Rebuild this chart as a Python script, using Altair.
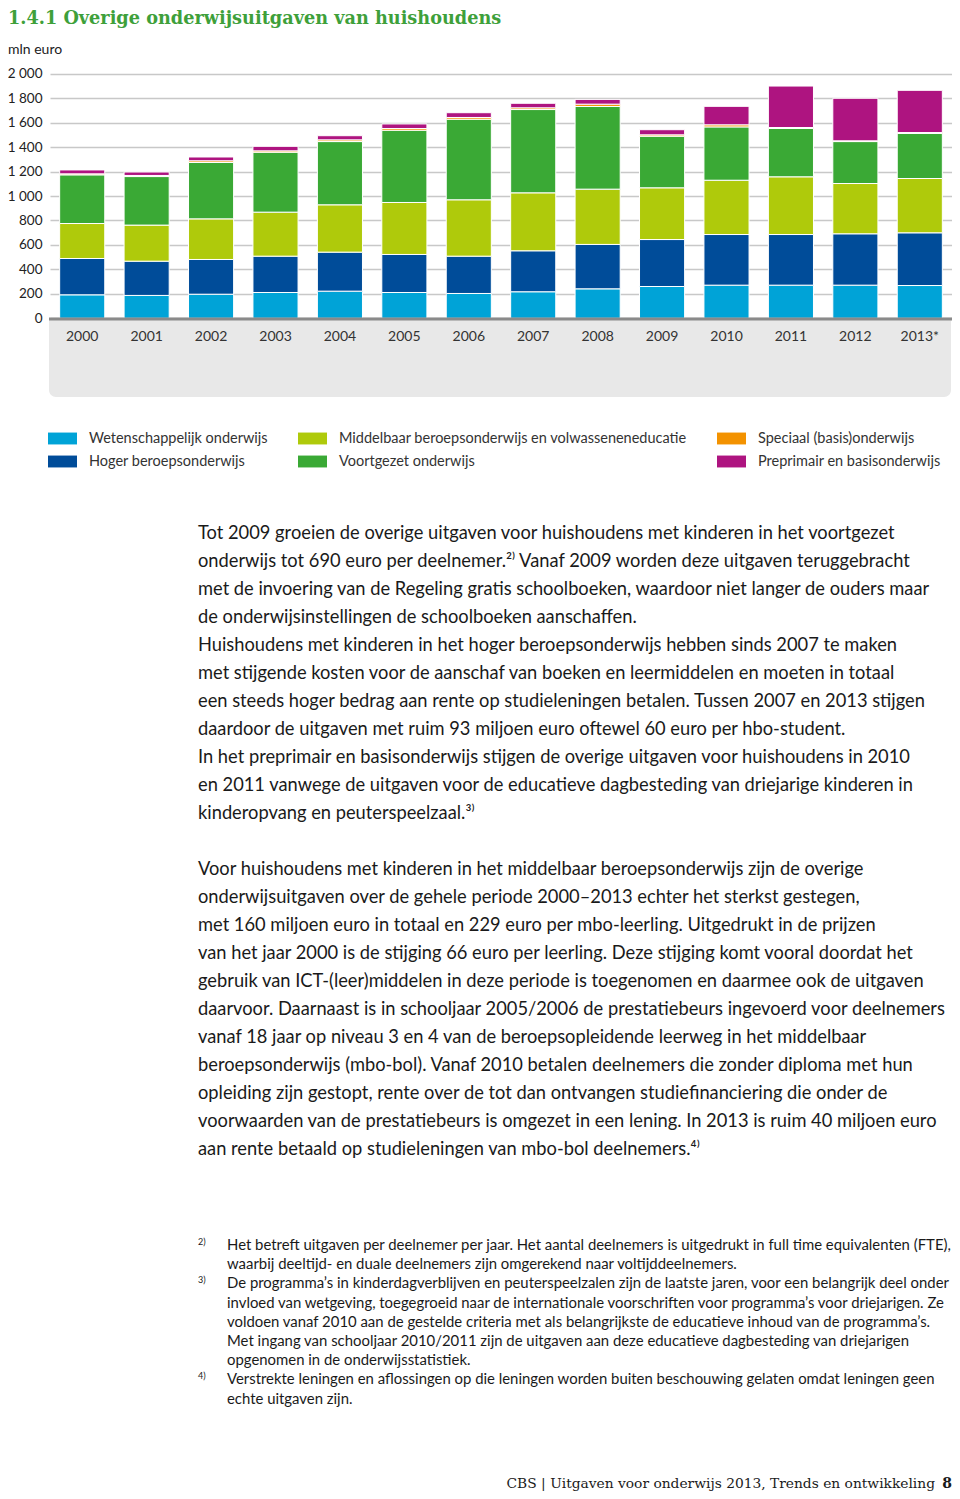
import altair as alt
import pandas as pd

# ---------------- data ----------------
years = ["2000", "2001", "2002", "2003", "2004", "2005", "2006",
         "2007", "2008", "2009", "2010", "2011", "2012", "2013*"]
wetenschappelijk = [192, 187, 197, 211, 222, 211, 203, 217, 241, 260, 271, 271, 271, 268]
hoger_beroeps = [297, 280, 284, 297, 319, 311, 305, 335, 363, 384, 414, 414, 420, 431]
middelbaar_beroeps = [286, 295, 332, 360, 387, 425, 461, 474, 452, 423, 444, 472, 411, 444]
voortgezet = [398, 397, 461, 490, 517, 591, 659, 681, 676, 422, 436, 395, 343, 368]
speciaal = [8, 9, 14, 11, 14, 14, 14, 14, 19, 11, 17, 8, 6, 8]
preprimair = [32, 28, 31, 37, 34, 37, 39, 37, 39, 42, 151, 339, 348, 345]

categories = ["Wetenschappelijk onderwijs", "Hoger beroepsonderwijs",
              "Middelbaar beroepsonderwijs en volwasseneneducatie",
              "Voortgezet onderwijs", "Speciaal (basis)onderwijs",
              "Preprimair en basisonderwijs"]
series = [wetenschappelijk, hoger_beroeps, middelbaar_beroeps, voortgezet, speciaal, preprimair]
category_colors = ["#00a3d7", "#004c99", "#afca0b", "#3aa935", "#f39200", "#ae1480"]
y_ticks = [0, 200, 400, 600, 800, 1000, 1200, 1400, 1600, 1800, 2000]

title_text = "1.4.1   Overige onderwijsuitgaven van huishoudens"
unit_text = "mln euro"

paragraph_1 = [
    "Tot 2009 groeien de overige uitgaven voor huishoudens met kinderen in het voortgezet",
    "onderwijs tot 690 euro per deelnemer.²⁾ Vanaf 2009 worden deze uitgaven teruggebracht",
    "met de invoering van de Regeling gratis schoolboeken, waardoor niet langer de ouders maar",
    "de onderwijsinstellingen de schoolboeken aanschaffen.",
    "Huishoudens met kinderen in het hoger beroepsonderwijs hebben sinds 2007 te maken",
    "met stijgende kosten voor de aanschaf van boeken en leermiddelen en moeten in totaal",
    "een steeds hoger bedrag aan rente op studieleningen betalen. Tussen 2007 en 2013 stijgen",
    "daardoor de uitgaven met ruim 93 miljoen euro oftewel 60 euro per hbo-student.",
    "In het preprimair en basisonderwijs stijgen de overige uitgaven voor huishoudens in 2010",
    "en 2011 vanwege de uitgaven voor de educatieve dagbesteding van driejarige kinderen in",
    "kinderopvang en peuterspeelzaal.³⁾",
]
paragraph_2 = [
    "Voor huishoudens met kinderen in het middelbaar beroepsonderwijs zijn de overige",
    "onderwijsuitgaven over de gehele periode 2000–2013 echter het sterkst gestegen,",
    "met 160 miljoen euro in totaal en 229 euro per mbo-leerling. Uitgedrukt in de prijzen",
    "van het jaar 2000 is de stijging 66 euro per leerling. Deze stijging komt vooral doordat het",
    "gebruik van ICT-(leer)middelen in deze periode is toegenomen en daarmee ook de uitgaven",
    "daarvoor. Daarnaast is in schooljaar 2005/2006 de prestatiebeurs ingevoerd voor deelnemers",
    "vanaf 18 jaar op niveau 3 en 4 van de beroepsopleidende leerweg in het middelbaar",
    "beroepsonderwijs (mbo-bol). Vanaf 2010 betalen deelnemers die zonder diploma met hun",
    "opleiding zijn gestopt, rente over de tot dan ontvangen studiefinanciering die onder de",
    "voorwaarden van de prestatiebeurs is omgezet in een lening. In 2013 is ruim 40 miljoen euro",
    "aan rente betaald op studieleningen van mbo-bol deelnemers.⁴⁾",
]

footnote_lines = [
    "Het betreft uitgaven per deelnemer per jaar. Het aantal deelnemers is uitgedrukt in full time equivalenten (FTE),",
    "waarbij deeltijd- en duale deelnemers zijn omgerekend naar voltijddeelnemers.",
    "De programma’s in kinderdagverblijven en peuterspeelzalen zijn de laatste jaren, voor een belangrijk deel onder",
    "invloed van wetgeving, toegegroeid naar de internationale voorschriften voor programma’s voor driejarigen. Ze",
    "voldoen vanaf 2010 aan de gestelde criteria met als belangrijkste de educatieve inhoud van de programma’s.",
    "Met ingang van schooljaar 2010/2011 zijn de uitgaven aan deze educatieve dagbesteding van driejarigen",
    "opgenomen in de onderwijsstatistiek.",
    "Verstrekte leningen en aflossingen op die leningen worden buiten beschouwing gelaten omdat leningen geen",
    "echte uitgaven zijn.",
]
footnote_marks = ["2)", "3)", "4)"]
footer_text = "CBS | Uitgaven voor onderwijs 2013, Trends en ontwikkeling"
page_number = "8"

# ---------------- tables ----------------
rows = []
for k, (cat, vals) in enumerate(zip(categories, series)):
    for yr, v in zip(years, vals):
        rows.append({"jaar": yr, "categorie": cat, "waarde": v, "volgorde": k})
df = pd.DataFrame(rows)
df_years = pd.DataFrame({"jaar": years})
one = pd.DataFrame({"a": [0]})

SANS = "Lato"
SERIF = "DejaVu Serif"

x_enc = alt.X("jaar:N", sort=years, axis=None,
              scale=alt.Scale(paddingInner=0.3, paddingOuter=0.15))

panel = alt.Chart(one).mark_rect(
    color="#e8e8e8", cornerRadiusBottomLeft=7, cornerRadiusBottomRight=7
).encode(x=alt.value(-1), x2=alt.value(901), y=alt.value(311), y2=alt.value(389))

bars = alt.Chart(df).mark_bar(stroke="white", strokeWidth=1).encode(
    x=x_enc,
    y=alt.Y("waarde:Q", stack="zero",
            scale=alt.Scale(domain=[0, 2000], range=[310.3, 65.7], nice=False),
            axis=alt.Axis(values=y_ticks, title=None, domain=False, ticks=False,
                          labelPadding=8, labelFont=SANS, labelFontSize=13.5,
                          labelColor="#222222", gridColor="#c8c8c8", gridWidth=1.5,
                          labelExpr="replace(format(datum.value, ','), ',', ' ')")),
    color=alt.Color("categorie:N",
                    scale=alt.Scale(domain=categories, range=category_colors),
                    legend=alt.Legend(orient="none", legendX=-2, legendY=416,
                                      columns=3, title=None,
                                      symbolType="M-1,-0.41H1V0.41H-1Z",
                                      symbolSize=841, symbolStrokeWidth=0,
                                      symbolOpacity=1,
                                      labelFont=SANS, labelFontSize=14.5,
                                      labelColor="#333333", labelLimit=500,
                                      columnPadding=30, rowPadding=2,
                                      labelOffset=12, gridAlign="each")),
    order=alt.Order("volgorde:Q"),
)

baseline = alt.Chart(one).mark_rule(color="#8a8a8a", strokeWidth=3).encode(
    x=alt.value(-1), x2=alt.value(902), y=alt.value(311))

year_labels = alt.Chart(df_years).mark_text(
    font=SANS, fontSize=14, color="#333333", baseline="middle"
).encode(x=x_enc, y=alt.value(329), text="jaar:N")

title = alt.Chart(one).mark_text(
    text=title_text, font=SERIF, fontSize=17.7, fontWeight="bold",
    color="#3ea03a", align="left", baseline="alphabetic"
).encode(x=alt.value(-42), y=alt.value(15.5))

unit = alt.Chart(one).mark_text(
    text=unit_text, font=SANS, fontSize=14, color="#222222",
    align="left", baseline="middle"
).encode(x=alt.value(-42), y=alt.value(42))

body_1 = alt.Chart(one).mark_text(
    text=paragraph_1, font=SANS, fontSize=18.3, color="#1a1a1a",
    align="left", baseline="alphabetic", lineHeight=28
).encode(x=alt.value(148), y=alt.value(531))

body_2 = alt.Chart(one).mark_text(
    text=paragraph_2, font=SANS, fontSize=18.3, color="#1a1a1a",
    align="left", baseline="alphabetic", lineHeight=28
).encode(x=alt.value(148), y=alt.value(867))

notes = alt.Chart(one).mark_text(
    text=footnote_lines, font=SANS, fontSize=14.9, color="#1a1a1a",
    align="left", baseline="alphabetic", lineHeight=19.2
).encode(x=alt.value(177), y=alt.value(1242))

mark_layers = []
for m, line_idx in zip(footnote_marks, [0, 2, 7]):
    mark_layers.append(alt.Chart(one).mark_text(
        text=m, font=SANS, fontSize=9, color="#1a1a1a",
        align="left", baseline="alphabetic"
    ).encode(x=alt.value(148), y=alt.value(1237 + line_idx * 19.2)))

footer = alt.Chart(one).mark_text(
    text=footer_text, font=SERIF, fontSize=13.8, color="#1a1a1a",
    align="right", baseline="alphabetic"
).encode(x=alt.value(885), y=alt.value(1480))

pnum = alt.Chart(one).mark_text(
    text=page_number, font=SERIF, fontSize=14, fontWeight="bold", color="#1a1a1a",
    align="right", baseline="alphabetic"
).encode(x=alt.value(902), y=alt.value(1480))

chart = alt.layer(panel, bars, baseline, year_labels, title, unit, body_1, body_2,
                  notes, *mark_layers, footer, pnum).properties(
    width=902, height=1483,
    autosize=alt.AutoSizeParams(type="none"),
    padding={"left": 42, "top": 0, "right": 0, "bottom": 0},
).configure_view(stroke=None)

chart.save("out.html", embed_options={"renderer": "svg", "actions": False})
